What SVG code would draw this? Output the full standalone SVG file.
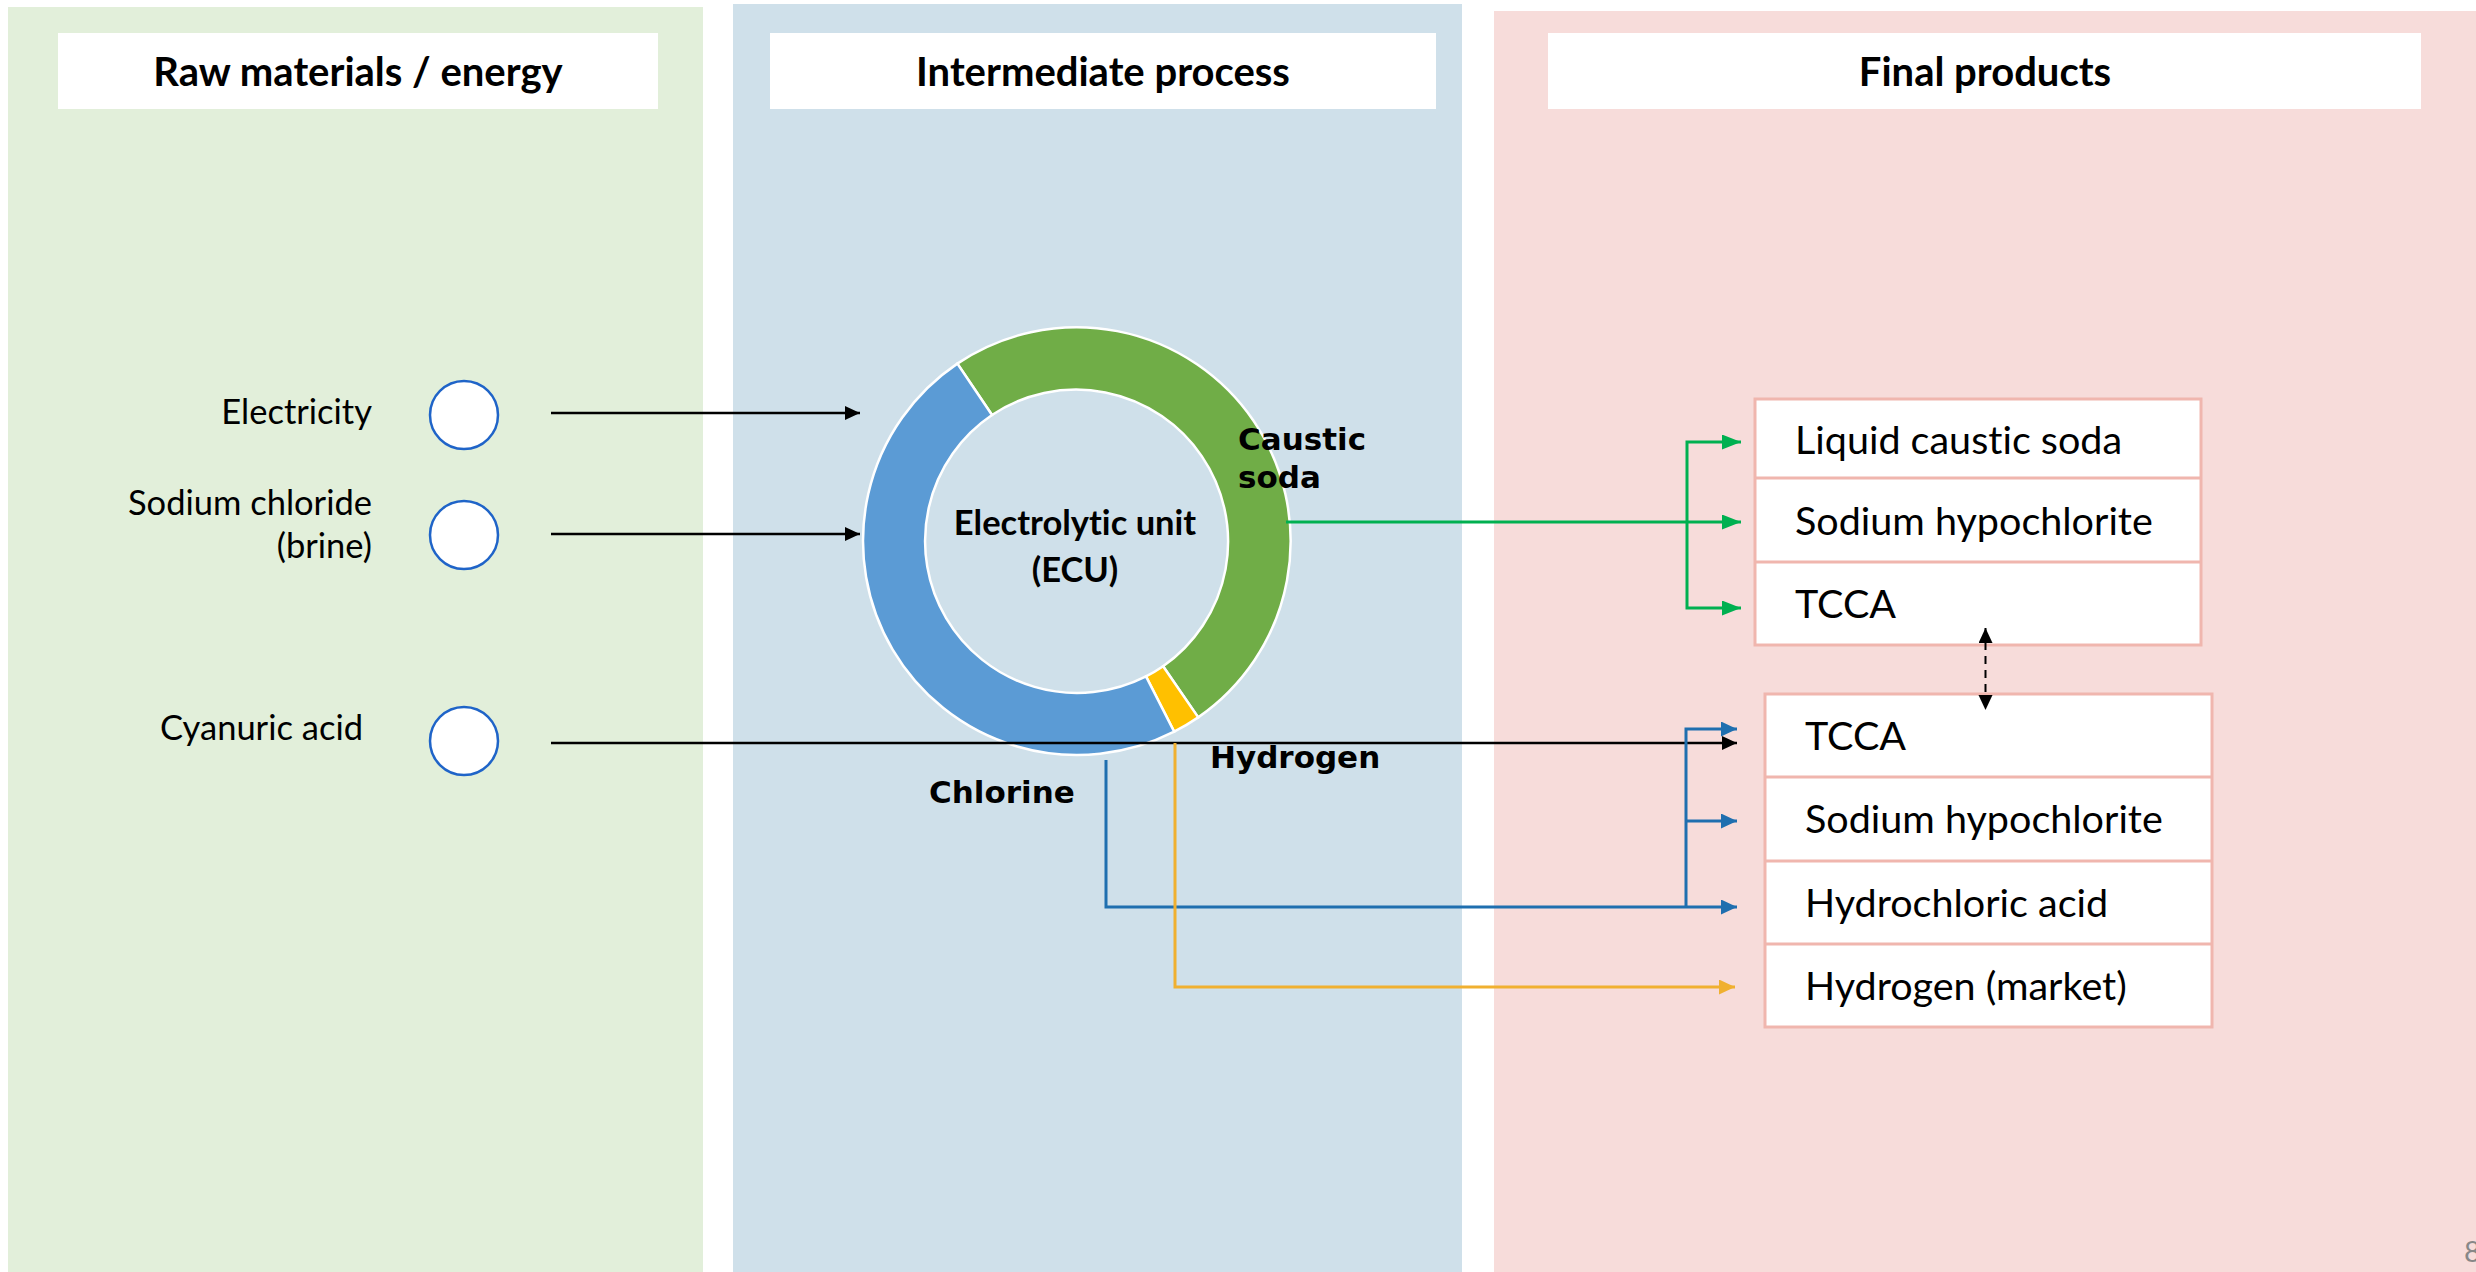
<svg xmlns="http://www.w3.org/2000/svg" width="2476" height="1272" viewBox="0 0 2476 1272">
<style>
.hdr{font-family:Lato,"Liberation Sans",sans-serif;font-weight:bold;font-size:40px;fill:#000;text-anchor:middle}
.lbl{font-family:Lato,"Liberation Sans",sans-serif;font-size:34.5px;fill:#000;text-anchor:end}
.prod{font-family:Lato,"Liberation Sans",sans-serif;font-size:39.5px;fill:#000}
.seg{font-family:"DejaVu Sans",Verdana,sans-serif;font-weight:bold;font-size:31px;fill:#000}
.ecu{font-family:Lato,"Liberation Sans",sans-serif;font-weight:bold;font-size:34.5px;fill:#000;text-anchor:middle;font-variant-ligatures:none}
.src{fill:#fff;stroke:#1F64C8;stroke-width:2.5}
.box{fill:#fff;stroke:#F0B6AE;stroke-width:3}
.ring{stroke:#fff;stroke-width:2.5}
.c{fill:none;stroke-width:3}
text{font-variant-ligatures:none}
</style>
<defs>
<marker id="ak" markerUnits="userSpaceOnUse" markerWidth="16" markerHeight="16" refX="15" refY="7" orient="auto"><path d="M0,0 L15,7 L0,14 Z" fill="#000"/></marker>
<marker id="ag" markerUnits="userSpaceOnUse" markerWidth="20" markerHeight="16" refX="19" refY="7.5" orient="auto"><path d="M0,0 L19,7.5 L0,15 Z" fill="#00B050"/></marker>
<marker id="ab" markerUnits="userSpaceOnUse" markerWidth="17" markerHeight="16" refX="16" refY="7.5" orient="auto"><path d="M0,0 L16,7.5 L0,15 Z" fill="#1F6FAF"/></marker>
<marker id="ay" markerUnits="userSpaceOnUse" markerWidth="17" markerHeight="16" refX="16" refY="7.5" orient="auto"><path d="M0,0 L16,7.5 L0,15 Z" fill="#F0B030"/></marker>
<marker id="ad" markerUnits="userSpaceOnUse" markerWidth="16" markerHeight="16" refX="15" refY="7" orient="auto-start-reverse"><path d="M0,0 L15,7 L0,14 Z" fill="#000"/></marker>
</defs>
<rect width="2476" height="1272" fill="#fff"/>
<g id="panels">
<rect x="8" y="7" width="695" height="1265" fill="#E2EFDA"/>
<rect x="733" y="4" width="729" height="1268" fill="#CFE0EA"/>
<rect x="1494" y="11" width="982" height="1261" fill="#F7DCDA"/>
</g>
<g id="header-raw"><rect x="58" y="33" width="600" height="76" fill="#fff"/><text class="hdr" x="358" y="86">Raw materials / energy</text></g>
<g id="header-intermediate"><rect x="770" y="33" width="666" height="76" fill="#fff"/><text class="hdr" x="1103" y="86">Intermediate process</text></g>
<g id="header-final"><rect x="1548" y="33" width="873" height="76" fill="#fff"/><text class="hdr" x="1985" y="86">Final products</text></g>
<g id="src-electricity"><text class="lbl" x="372" y="424">Electricity</text><circle class="src" cx="464" cy="415" r="34"/></g>
<g id="src-nacl"><text class="lbl" x="372" y="515">Sodium chloride</text><text class="lbl" x="372" y="558">(brine)</text><circle class="src" cx="464" cy="535" r="34"/></g>
<g id="src-cyanuric"><text class="lbl" x="363" y="740">Cyanuric acid</text><circle class="src" cx="464" cy="741" r="34"/></g>
<g id="ecu">
<path class="ring" fill="#70AD47" d="M957.33 363.59 A214 214 0 0 1 1198.21 717.36 L1163.09 666.26 A152 152 0 0 0 992.0 415.0 Z"/>
<path class="ring" fill="#FFC000" d="M1198.21 717.36 A214 214 0 0 1 1174.16 731.67 L1146.01 676.43 A152 152 0 0 0 1163.09 666.26 Z"/>
<path class="ring" fill="#5B9BD5" d="M1174.16 731.67 A214 214 0 0 1 957.33 363.59 L992.0 415.0 A152 152 0 0 0 1146.01 676.43 Z"/>
<text class="ecu" x="1075" y="535">Electrolytic unit</text>
<text class="ecu" x="1075" y="582">(ECU)</text>
<text class="seg" x="1238" y="450">Caustic</text>
<text class="seg" x="1238" y="488">soda</text>
<text class="seg" x="1210" y="768">Hydrogen</text>
<text class="seg" x="929" y="803">Chlorine</text>
</g>
<g id="products-caustic">
<rect class="box" x="1755" y="399" width="446" height="246"/>
<line class="box" x1="1755" y1="478" x2="2201" y2="478"/>
<line class="box" x1="1755" y1="562" x2="2201" y2="562"/>
<text class="prod" x="1795" y="454">Liquid caustic soda</text>
<text class="prod" x="1795" y="535">Sodium hypochlorite</text>
<text class="prod" x="1795" y="618">TCCA</text>
</g>
<g id="products-chlorine">
<rect class="box" x="1765" y="694" width="447" height="333"/>
<line class="box" x1="1765" y1="777" x2="2212" y2="777"/>
<line class="box" x1="1765" y1="861" x2="2212" y2="861"/>
<line class="box" x1="1765" y1="944" x2="2212" y2="944"/>
<text class="prod" x="1805" y="750">TCCA</text>
<text class="prod" x="1805" y="833">Sodium hypochlorite</text>
<text class="prod" x="1805" y="917">Hydrochloric acid</text>
<text class="prod" x="1805" y="1000">Hydrogen (market)</text>
</g>
<g id="connectors">
<line x1="551" y1="413" x2="860" y2="413" stroke="#000" stroke-width="2.5" marker-end="url(#ak)"/>
<line x1="551" y1="534" x2="860" y2="534" stroke="#000" stroke-width="2.5" marker-end="url(#ak)"/>
<line x1="551" y1="743" x2="1737" y2="743" stroke="#000" stroke-width="2.5" marker-end="url(#ak)"/>
<line class="c" x1="1286" y1="522" x2="1741" y2="522" stroke="#00B050" marker-end="url(#ag)"/>
<path class="c" d="M1687 522 V442 H1741" stroke="#00B050" marker-end="url(#ag)"/>
<path class="c" d="M1687 522 V608 H1741" stroke="#00B050" marker-end="url(#ag)"/>
<path class="c" d="M1106 760 V907 H1737" stroke="#1F6FAF" marker-end="url(#ab)"/>
<path class="c" d="M1686 907 V729 H1737" stroke="#1F6FAF" marker-end="url(#ab)"/>
<line class="c" x1="1686" y1="821" x2="1737" y2="821" stroke="#1F6FAF" marker-end="url(#ab)"/>
<path class="c" d="M1175 743 V987 H1735" stroke="#F0B030" marker-end="url(#ay)"/>
<line x1="1985.5" y1="628" x2="1985.5" y2="710" stroke="#000" stroke-width="2" stroke-dasharray="8 6" marker-start="url(#ad)" marker-end="url(#ad)"/>
</g>
<text x="2464" y="1262" font-family="Lato,'Liberation Sans',sans-serif" font-size="29" fill="#888">8</text>
</svg>
